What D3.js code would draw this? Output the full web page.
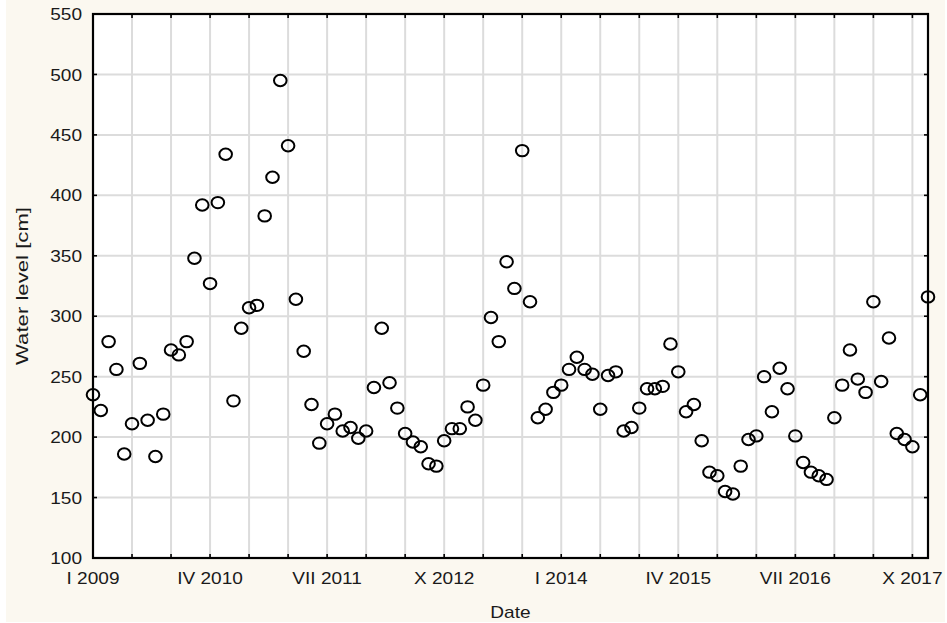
<!DOCTYPE html>
<head>
  <meta charset="utf-8">
  <script src="https://d3js.org/d3.v7.min.js"></script>
  <style>
    body { margin:0; background:#fff; }
    text { font-family: 'Liberation Sans', Arial, sans-serif; fill:#1a1a1a; }
    .tick-label { font-size:17px; }
    .axis-title { font-size:17px; }
    .grid-line { stroke:#dcdcdc; stroke-width:2; }
    .frame { fill:none; stroke:#000; stroke-width:2.2; }
    .dot { fill:none; stroke:#000; stroke-width:2; }
  </style>
</head>
<body>
<script>
  // monthly water level, I 2009 .. XII 2017
  var levels = [
    235, 222, 279, 256, 186, 211, 261, 214, 184, 219, 272, 268,
    279, 348, 392, 327, 394, 434, 230, 290, 307, 309, 383, 415,
    495, 441, 314, 271, 227, 195, 211, 219, 205, 208, 199, 205,
    241, 290, 245, 224, 203, 196, 192, 178, 176, 197, 207, 207,
    225, 214, 243, 299, 279, 345, 323, 437, 312, 216, 223, 237,
    243, 256, 266, 256, 252, 223, 251, 254, 205, 208, 224, 240,
    240, 242, 277, 254, 221, 227, 197, 171, 168, 155, 153, 176,
    198, 201, 250, 221, 257, 240, 201, 179, 171, 168, 165, 216,
    243, 272, 248, 237, 312, 246, 282, 203, 198, 192, 235, 316
  ];
  var tickMonths = d3.range(0, 108, 5);
  var labelMonths = [0, 15, 30, 45, 60, 75, 90, 105];
  var labelText = ["I 2009", "IV 2010", "VII 2011", "X 2012", "I 2014", "IV 2015", "VII 2016", "X 2017"];
  var yTicks = [100, 150, 200, 250, 300, 350, 400, 450, 500, 550];

  var W = 947, H = 623;
  var margin = {top: 14, right: 19, bottom: 65, left: 93};
  var width = W - margin.left - margin.right,
      height = H - margin.top - margin.bottom;

  var svg = d3.select("body").append("svg")
      .attr("width", W)
      .attr("height", H);

  svg.append("rect")
    .attr("x", 6).attr("y", 0)
    .attr("width", 939).attr("height", 622)
    .attr("fill", "#fbf8f0");

  var g = svg.append("g")
    .attr("transform", "translate(" + margin.left + "," + margin.top + ")");

  var x = d3.scaleLinear().domain([0, 107]).range([0, width]);
  var y = d3.scaleLinear().domain([100, 550]).range([height, 0]);

  g.append("rect")
    .attr("width", width).attr("height", height)
    .attr("fill", "#fff");

  // grid
  g.append("g").selectAll("line")
    .data(tickMonths.filter(d => d > 0))
    .enter().append("line")
      .attr("class", "grid-line")
      .attr("x1", d => x(d)).attr("x2", d => x(d))
      .attr("y1", 0).attr("y2", height);

  g.append("g").selectAll("line")
    .data(yTicks.slice(1, -1))
    .enter().append("line")
      .attr("class", "grid-line")
      .attr("x1", 0).attr("x2", width)
      .attr("y1", d => y(d)).attr("y2", d => y(d));

  // inward ticks on all four sides
  var tk = 4;
  var ticks = g.append("g").attr("stroke", "#000").attr("stroke-width", 1.6);
  tickMonths.forEach(function(m) {
    ticks.append("line").attr("x1", x(m)).attr("x2", x(m)).attr("y1", height).attr("y2", height - tk);
    ticks.append("line").attr("x1", x(m)).attr("x2", x(m)).attr("y1", 0).attr("y2", tk);
  });
  yTicks.forEach(function(v) {
    ticks.append("line").attr("x1", 0).attr("x2", tk).attr("y1", y(v)).attr("y2", y(v));
    ticks.append("line").attr("x1", width).attr("x2", width - tk).attr("y1", y(v)).attr("y2", y(v));
  });

  g.append("rect")
    .attr("class", "frame")
    .attr("width", width).attr("height", height);

  // text in the original is a bit wider than Arial
  function widen(sel, k) {
    sel.each(function() {
      var len = this.getComputedTextLength();
      d3.select(this).attr("textLength", len * k).attr("lengthAdjust", "spacingAndGlyphs");
    });
  }

  // tick labels
  g.append("g").selectAll("text")
    .data(yTicks)
    .enter().append("text")
      .attr("class", "tick-label")
      .attr("x", -11)
      .attr("y", d => y(d))
      .attr("dy", "0.36em")
      .attr("text-anchor", "end")
      .text(d => d)
      .call(widen, 1.12);

  g.append("g").selectAll("text")
    .data(labelMonths)
    .enter().append("text")
      .attr("class", "tick-label")
      .attr("x", d => x(d))
      .attr("y", height + 26)
      .attr("text-anchor", "middle")
      .text((d, i) => labelText[i])
      .call(widen, 1.12);

  g.append("text")
    .attr("class", "axis-title")
    .attr("text-anchor", "middle")
    .attr("transform", "translate(" + (-65) + "," + (height / 2) + ") rotate(-90)")
    .text("Water level [cm]")
    .attr("textLength", 158)
    .attr("lengthAdjust", "spacingAndGlyphs");

  g.append("text")
    .attr("class", "axis-title")
    .attr("text-anchor", "middle")
    .attr("x", width / 2)
    .attr("y", height + 60)
    .text("Date")
    .call(widen, 1.12);

  // points
  g.append("g").selectAll("ellipse")
    .data(levels)
    .enter().append("ellipse")
      .attr("class", "dot")
      .attr("cx", (d, i) => x(i))
      .attr("cy", d => y(d))
      .attr("rx", 6.3)
      .attr("ry", 5.7);
</script>
</body>
